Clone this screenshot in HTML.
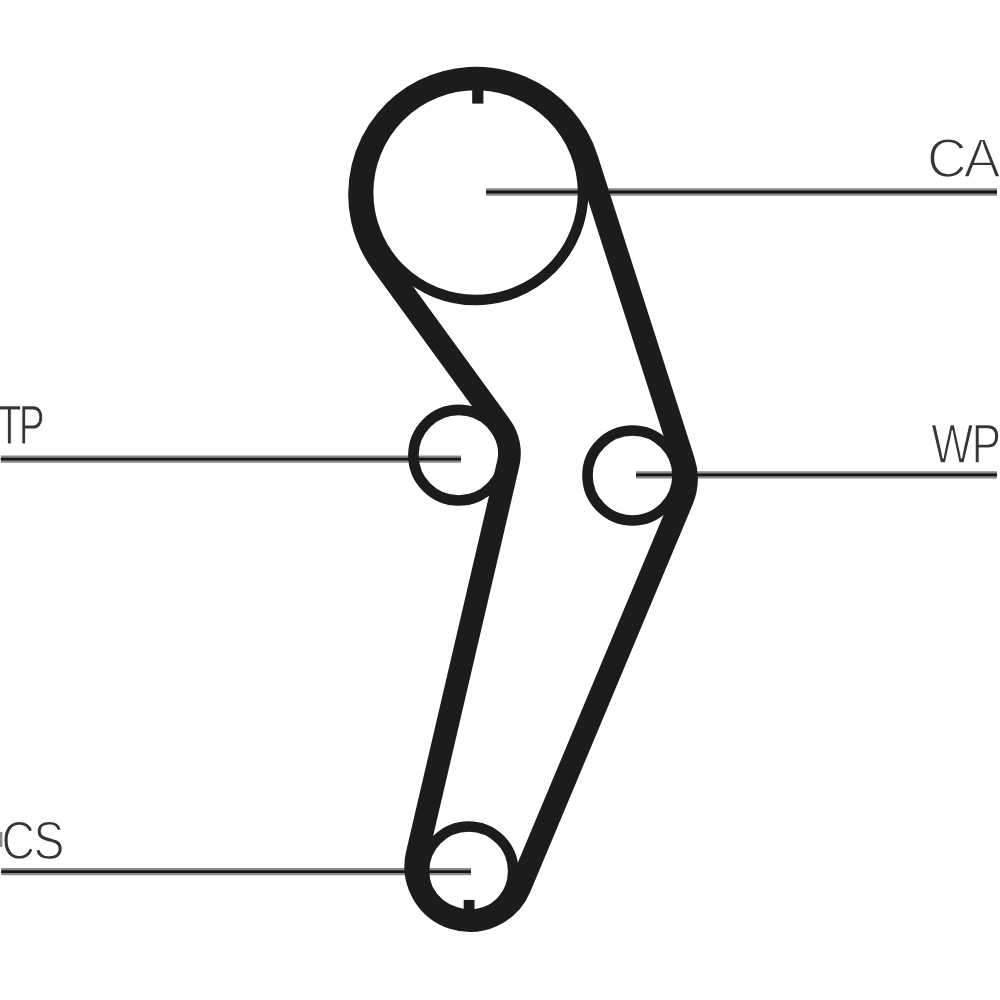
<!DOCTYPE html>
<html lang="en">
<head>
<meta charset="utf-8">
<title>Timing belt diagram</title>
<style>
  html,body{margin:0;padding:0;background:#fff;}
  body{width:1000px;height:1000px;overflow:hidden;position:relative;}
  svg{position:absolute;left:0;top:0;display:block;}
  text{font-family:"Liberation Sans",sans-serif;font-size:54.0px;fill:#333333;stroke:#fff;paint-order:fill stroke;vector-effect:non-scaling-stroke;text-rendering:geometricPrecision;}
</style>
</head>
<body>
<svg width="1000" height="1000" viewBox="0 0 1000 1000">
  <defs>
    <filter id="soft" x="0" y="0" width="1000" height="1000" filterUnits="userSpaceOnUse">
      <feGaussianBlur stdDeviation="0.75"/>
    </filter>
  </defs>
  <rect width="1000" height="1000" fill="#ffffff"/>
  <g filter="url(#soft)">
  <rect width="1000" height="1000" fill="#ffffff"/>
  <!-- leader lines -->
  <g fill="none">
    <line x1="486" y1="192.0" x2="997" y2="192.0" stroke="#8a8a8a" stroke-width="7.4"/>
    <line x1="486" y1="192.0" x2="997" y2="192.0" stroke="#161616" stroke-width="2.9"/>
    <line x1="636" y1="474.9" x2="997" y2="474.9" stroke="#8a8a8a" stroke-width="7.4"/>
    <line x1="636" y1="474.9" x2="997" y2="474.9" stroke="#161616" stroke-width="2.9"/>
    <line x1="0.8" y1="459.1" x2="461" y2="459.1" stroke="#8a8a8a" stroke-width="7.4"/>
    <line x1="0.8" y1="459.1" x2="461" y2="459.1" stroke="#161616" stroke-width="2.9"/>
    <line x1="1.2" y1="871.6" x2="471" y2="871.6" stroke="#8a8a8a" stroke-width="7.4"/>
    <line x1="1.2" y1="871.6" x2="471" y2="871.6" stroke="#161616" stroke-width="2.9"/>
  </g>
  <!-- pulley rings -->
  <g stroke="#1b1b1b" stroke-width="10.6" fill="none">
    <circle cx="475.6" cy="192.5" r="107.5"/>
    <circle cx="458.7" cy="455.2" r="45.3"/>
    <circle cx="632.5" cy="475.5" r="45"/>
    <circle cx="468.6" cy="871.1" r="44.6"/>
  </g>
  <!-- timing marks -->
  <g fill="#1b1b1b">
    <rect x="472.2" y="86" width="11.2" height="17.6"/>
    <rect x="463.7" y="899.9" width="10.8" height="14"/>
  </g>
  <!-- belt -->
  <path d="M586.81 158.98 L683.72 461.5 A56.25 56.25 0 0 1 682.03 500.4 L519.83 887.4 A54.13 54.13 0 0 1 417.2 854.18 L508.18 463.94 A46.72 46.72 0 0 0 500.45 425.84 L381.89 262.98 A116.38 116.38 0 1 1 586.81 158.98 Z" fill="none" stroke="#1b1b1b" stroke-width="22.8" stroke-linejoin="round"/>
  <!-- crop artefact at the left edge beside the CS label -->
  <rect x="0" y="832" width="2.4" height="15" fill="#8a8a8a"/>
  <!-- labels -->
  <g opacity="0.995">
    <text transform="matrix(1.018 0 0 1.019 0 177.263)" x="910.728 946.749" y="0" stroke-width="1.6">CA</text>
    <text transform="matrix(0.822 0 0 1.031 0 463.45)" x="1132.968 1181.878" y="0" stroke-width="1.3">WP</text>
    <text transform="matrix(0.721 0 0 1.028 0 444.5)" x="-3.575 26.157" y="0" stroke-width="1">TP</text>
    <text transform="matrix(0.858 0 0 0.999 0 859.173)" x="1.845 39.136" y="0" stroke-width="1.4">CS</text>
  </g>
  </g>
</svg>
</body>
</html>
